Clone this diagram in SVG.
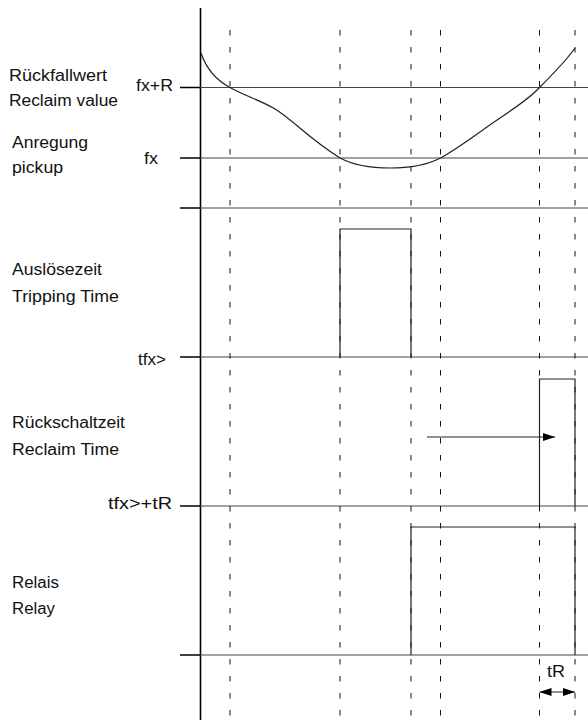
<svg xmlns="http://www.w3.org/2000/svg" width="588" height="724" viewBox="0 0 588 724">
<style>
text{font-family:"Liberation Sans",Arial,sans-serif;font-size:16px;fill:#111}
.ax{stroke:#000;stroke-width:1.6;fill:none}
.tk{stroke:#000;stroke-width:1.5;fill:none}
.hl{stroke:#444;stroke-width:1;fill:none}
.dl{stroke:#111;stroke-width:1;stroke-dasharray:5.5 11.5;fill:none}
.sg{stroke:#222;stroke-width:1.2;fill:none}
</style>
<defs>
<marker id="ah" viewBox="0 0 12 8" refX="12" refY="4" markerWidth="12" markerHeight="8" markerUnits="userSpaceOnUse" orient="auto-start-reverse">
<path d="M0,0 L12,4 L0,8 Z" fill="#000"/>
</marker>
</defs>
<g id="axis">
<line class="ax" x1="200.5" y1="8" x2="200.5" y2="720"/>
</g>
<g id="gridlines">
<line class="tk" x1="180" y1="87.5" x2="200" y2="87.5"/><line class="hl" x1="200" y1="87.5" x2="588" y2="87.5"/>
<line class="tk" x1="180" y1="158" x2="200" y2="158"/><line class="hl" x1="200" y1="158" x2="588" y2="158"/>
<line class="tk" x1="180" y1="208" x2="200" y2="208"/><line class="hl" x1="200" y1="208" x2="588" y2="208"/>
<line class="tk" x1="180" y1="357" x2="200" y2="357"/><line class="hl" x1="200" y1="357" x2="588" y2="357"/>
<line class="tk" x1="180" y1="506" x2="200" y2="506"/><line class="hl" x1="200" y1="506" x2="588" y2="506"/>
<line class="tk" x1="180" y1="655" x2="200" y2="655"/><line class="hl" x1="200" y1="655" x2="588" y2="655"/>
</g>
<g id="dashes">
<line class="dl" x1="230" y1="30" x2="230" y2="720"/>
<line class="dl" x1="340" y1="30" x2="340" y2="720"/>
<line class="dl" x1="411" y1="30" x2="411" y2="720"/>
<line class="dl" x1="440.5" y1="30" x2="440.5" y2="720"/>
<line class="dl" x1="539.5" y1="30" x2="539.5" y2="720"/>
<line class="dl" x1="575" y1="30" x2="575" y2="720"/>
</g>
<g id="curve">
<path class="sg" d="M201,53 C206,68 216,80 230,87.5 C245,96 262,101 275,109 C292,119 308,138 340,158 C355,166 372,168 390,168 C405,168 425,166 440.5,158 C460,147 475,135 500,118 C515,108 530,98 539.5,87.5 C553,74 566,61 575,48"/>
</g>
<g id="trip-pulse">
<path class="sg" d="M340,357 V229 H411 V357"/>
</g>
<g id="reclaim-pulse">
<path class="sg" d="M539.5,506 V379 H575 V506"/>
</g>
<g id="relay-pulse">
<path class="sg" d="M411,655 V527 H575 V655"/>
</g>
<g id="connectors">
<line x1="427" y1="437" x2="555" y2="437" stroke="#222" stroke-width="1.2" marker-end="url(#ah)"/>
<line x1="539.5" y1="692" x2="575" y2="692" stroke="#222" stroke-width="1.2" marker-start="url(#ah)" marker-end="url(#ah)"/>
</g>
<g id="labels">
<text x="9" y="81" textLength="98" lengthAdjust="spacingAndGlyphs">Rückfallwert</text>
<text x="9" y="106" textLength="109" lengthAdjust="spacingAndGlyphs">Reclaim value</text>
<text x="12" y="148" textLength="76" lengthAdjust="spacingAndGlyphs">Anregung</text>
<text x="12" y="173" textLength="51" lengthAdjust="spacingAndGlyphs">pickup</text>
<text x="12" y="275" textLength="90" lengthAdjust="spacingAndGlyphs">Auslösezeit</text>
<text x="12" y="302" textLength="107" lengthAdjust="spacingAndGlyphs">Tripping Time</text>
<text x="12" y="428" textLength="113" lengthAdjust="spacingAndGlyphs">Rückschaltzeit</text>
<text x="12" y="455" textLength="107" lengthAdjust="spacingAndGlyphs">Reclaim Time</text>
<text x="12" y="588" textLength="47" lengthAdjust="spacingAndGlyphs">Relais</text>
<text x="12" y="614" textLength="43" lengthAdjust="spacingAndGlyphs">Relay</text>
<text x="136" y="91" textLength="37" lengthAdjust="spacingAndGlyphs">fx+R</text>
<text x="144" y="164" textLength="14" lengthAdjust="spacingAndGlyphs">fx</text>
<text x="138" y="365" textLength="28" lengthAdjust="spacingAndGlyphs">tfx&gt;</text>
<text x="108" y="509" textLength="64" lengthAdjust="spacingAndGlyphs">tfx&gt;+tR</text>
<text x="547" y="677" textLength="18" lengthAdjust="spacingAndGlyphs">tR</text>
</g>
</svg>
